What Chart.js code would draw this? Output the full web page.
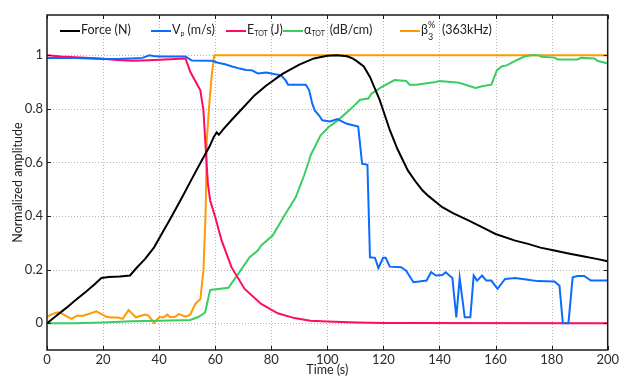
<!DOCTYPE html>
<html>
<head>
<meta charset="utf-8">
<script src="https://cdn.jsdelivr.net/npm/chart.js@4/dist/chart.umd.min.js"></script>
<style>
    html, body { margin: 0; padding: 0; background: #fff; }
    #wrap { position: relative; width: 621px; height: 376px; }
    #legend { position: absolute; left: 0; top: 0; width: 621px; height: 40px; font: 12.5px Lato, sans-serif; color: #222; pointer-events: none; }
    .leg { position: absolute; top: 23px; line-height: 14px; white-space: nowrap; }
    .leg i { display: inline-block; width: 20px; height: 2px; vertical-align: middle; margin-right: 1px; }
    .leg sub { font-size: 7px; vertical-align: -2px; }
    .leg .ss { display: inline-block; position: relative; width: 9px; height: 14px; vertical-align: middle; font-size: 9px; }
    .leg .ss span { position: absolute; left: 0; }
</style>
</head>
<body>
<div id="wrap">
    <canvas id="chart" width="621" height="376"></canvas>
    <div id="legend"></div>
</div>
<script>
const xTicks = [0, 20, 40, 60, 80, 100, 120, 140, 160, 180, 200];
const yTicks = [0, 0.2, 0.4, 0.6, 0.8, 1];

const forceT = [0, 3, 7, 10, 14, 17, 19.4, 22, 26, 29.6, 32, 35, 38.2, 41, 44, 48.2, 52, 55.2, 58, 59.5, 60.5, 61.3, 63, 66, 70, 74, 78, 84, 90, 95.2, 100, 103.5, 107, 109, 110.5, 113, 115.2, 118.7, 122.3, 125, 128.7, 131.7, 134, 136, 141, 145, 150.5, 156.4, 160, 167, 171.6, 176, 181, 186, 191.6, 196, 200];
const forceV = [0, 0.025, 0.058, 0.085, 0.118, 0.145, 0.169, 0.172, 0.174, 0.178, 0.207, 0.24, 0.283, 0.335, 0.39, 0.47, 0.545, 0.607, 0.66, 0.695, 0.712, 0.703, 0.725, 0.76, 0.805, 0.85, 0.885, 0.93, 0.965, 0.988, 0.998, 1.0, 0.996, 0.988, 0.978, 0.958, 0.919, 0.832, 0.72, 0.65, 0.57, 0.525, 0.495, 0.475, 0.433, 0.41, 0.383, 0.352, 0.333, 0.308, 0.296, 0.282, 0.271, 0.26, 0.249, 0.24, 0.231];

const vpT = [0, 10, 20, 25, 30, 34, 36.5, 38, 40, 49.4, 51.7, 58.8, 61, 63.5, 66, 68.8, 71, 73, 75.2, 78.2, 80, 83.5, 85.2, 86, 92.3, 93.5, 94.6, 95.5, 97, 98.2, 101, 103.5, 107, 111, 112.4, 114.3, 115.2, 117, 118.2, 119.9, 120.8, 122.3, 126.3, 128.1, 130.7, 135.4, 137, 138.7, 141, 142.2, 144.6, 146, 147.2, 149, 151, 152.2, 153.4, 155.2, 156.7, 158.5, 160.7, 163.4, 167, 171.6, 175, 181, 182.8, 184, 186, 187.5, 189.3, 191.6, 194, 200];
const vpV = [0.99, 0.99, 0.986, 0.986, 0.988, 0.99, 1.0, 0.997, 0.995, 0.995, 0.98, 0.979, 0.972, 0.966, 0.958, 0.95, 0.945, 0.944, 0.932, 0.935, 0.932, 0.925, 0.905, 0.89, 0.89, 0.87, 0.82, 0.794, 0.776, 0.757, 0.753, 0.762, 0.744, 0.734, 0.595, 0.591, 0.246, 0.244, 0.206, 0.244, 0.244, 0.211, 0.209, 0.196, 0.153, 0.159, 0.19, 0.178, 0.18, 0.19, 0.169, 0.022, 0.169, 0.022, 0.022, 0.178, 0.159, 0.178, 0.159, 0.159, 0.128, 0.165, 0.169, 0.162, 0.157, 0.156, 0.14, 0, 0, 0.171, 0.176, 0.176, 0.159, 0.159];

const eT = [0, 5, 10, 18.8, 25, 30.5, 36.5, 44, 49.4, 51.1, 54.7, 55.8, 56.9, 57.4, 58.2, 60, 62.3, 65.8, 70.5, 76.4, 82.3, 88.2, 94, 100, 110.5, 120, 200];
const eV = [1.0, 0.995, 0.992, 0.988, 0.982, 0.979, 0.981, 0.985, 0.988, 0.938, 0.869, 0.794, 0.6, 0.52, 0.458, 0.396, 0.308, 0.209, 0.128, 0.072, 0.037, 0.019, 0.009, 0.006, 0.003, 0.001, 0];

const alphaT = [0, 10, 20, 30, 40, 51.1, 54.1, 56.4, 58.2, 61.1, 64.7, 68.2, 72.3, 75.2, 76.4, 80.5, 84.7, 88.7, 91.7, 93.5, 94, 97.6, 100.5, 103.5, 108.1, 111.7, 114.6, 115.8, 119.3, 124, 128.1, 129.3, 131.7, 138.7, 140, 147, 152.8, 155.2, 158.5, 160.5, 162.3, 164, 167, 170.5, 172.8, 175.2, 176.4, 181, 182.3, 189.3, 190.5, 195.3, 196.3, 200];
const alphaV = [0, 0, 0.003, 0.007, 0.009, 0.012, 0.024, 0.04, 0.124, 0.128, 0.132, 0.184, 0.246, 0.271, 0.29, 0.327, 0.402, 0.47, 0.551, 0.607, 0.626, 0.701, 0.732, 0.755, 0.797, 0.834, 0.838, 0.857, 0.881, 0.907, 0.904, 0.89, 0.89, 0.9, 0.904, 0.897, 0.878, 0.884, 0.89, 0.944, 0.959, 0.962, 0.979, 0.996, 1.0, 1.0, 0.994, 0.991, 0.984, 0.984, 0.99, 0.988, 0.979, 0.969];

const betaT = [0, 1.5, 3.5, 4.7, 6.5, 8.8, 10.6, 13, 17.6, 21.2, 22.9, 25.3, 27, 29.1, 31.7, 35, 36.2, 38.2, 40, 41.7, 42.9, 44, 45.7, 47, 49.4, 51.1, 52.9, 54.7, 55.8, 56.6, 57, 57.8, 58.8, 59.7, 200];
const betaV = [0.024, 0.032, 0.04, 0.04, 0.028, 0.016, 0.028, 0.028, 0.044, 0.024, 0.021, 0.021, 0.016, 0.049, 0.022, 0.032, 0.028, 0.001, 0.022, 0.022, 0.032, 0.022, 0.024, 0.034, 0.024, 0.032, 0.072, 0.09, 0.196, 0.42, 0.682, 0.807, 0.93, 1.0, 1.0];

const seriesNames = ["Force (N)", "Vp (m/s)", "ETOT (J)", "αTOT (dB/cm)", "β3% (363kHz)"];
const seriesColors = ["#000000", "#0a6cff", "#ff0a64", "#3ccc64", "#ff9a00"];

function points(ts, vs) {
    return ts.map((t, i) => ({ x: t, y: vs[i] }));
}

// legend is real HTML so the sub/superscripts can be kept
const legendItems = [
    { left: 60, html: "Force (N)" },
    { left: 151, html: "V<sub>p</sub> (m/s)" },
    { left: 226, html: "E<sub>TOT</sub> (J)" },
    { left: 283, html: "α<sub>TOT</sub><span style=\"margin-left:5px\">(dB/cm)</span>" },
    { left: 400, html: "β<span class=\"ss\"><span style=\"top:-6px\">%</span><span style=\"top:6px\">3</span></span><span style=\"margin-left:5px\">(363kHz)</span>" },
];

function buildLegend() {
    const el = document.getElementById("legend");
    el.innerHTML = legendItems.map((item, i) =>
        `<div class="leg" style="left:${item.left}px"><i style="background:${seriesColors[i]}"></i>${item.html}</div>`
    ).join("");
}

// dotted grid under the data, solid frame with inward ticks over it
const framePlugin = {
    id: "frame",
    beforeDatasetsDraw(chart) {
        const { ctx, chartArea: a, scales: { x, y } } = chart;
        ctx.save();
        ctx.strokeStyle = "#b4b4b4";
        ctx.lineWidth = 1;
        ctx.setLineDash([1, 2]);
        for (const t of xTicks) {
            const px = Math.round(x.getPixelForValue(t)) + 0.5;
            if (px <= a.left + 1 || px >= a.right - 1) continue;
            ctx.beginPath(); ctx.moveTo(px, a.top); ctx.lineTo(px, a.bottom); ctx.stroke();
        }
        for (const v of yTicks) {
            const py = Math.round(y.getPixelForValue(v)) + 0.5;
            ctx.beginPath(); ctx.moveTo(a.left, py); ctx.lineTo(a.right, py); ctx.stroke();
        }
        ctx.restore();
    },
    afterDatasetsDraw(chart) {
        const { ctx, chartArea: a, scales: { x, y } } = chart;
        ctx.save();
        ctx.strokeStyle = "#1a1a1a";
        ctx.lineWidth = 1.5;
        ctx.strokeRect(a.left, a.top, a.right - a.left, a.bottom - a.top);
        ctx.lineWidth = 1;
        for (const t of xTicks) {
            const px = Math.round(x.getPixelForValue(t)) + 0.5;
            ctx.beginPath();
            ctx.moveTo(px, a.bottom); ctx.lineTo(px, a.bottom - 4);
            ctx.moveTo(px, a.top); ctx.lineTo(px, a.top + 4);
            ctx.stroke();
        }
        for (const v of yTicks) {
            const py = Math.round(y.getPixelForValue(v)) + 0.5;
            ctx.beginPath();
            ctx.moveTo(a.left, py); ctx.lineTo(a.left + 4, py);
            ctx.moveTo(a.right, py); ctx.lineTo(a.right - 4, py);
            ctx.stroke();
        }
        ctx.restore();
    },
};

function renderChart() {
    const series = [
        points(forceT, forceV),
        points(vpT, vpV),
        points(eT, eV),
        points(alphaT, alphaV),
        points(betaT, betaV),
    ];
    const datasets = series.map((data, i) => ({
        label: seriesNames[i],
        data,
        borderColor: seriesColors[i],
        backgroundColor: seriesColors[i],
        borderWidth: 2,
        pointRadius: 0,
        tension: 0,
        fill: false,
    }));

    new Chart(document.getElementById("chart"), {
        type: "line",
        data: { datasets },
        options: {
            responsive: false,
            animation: false,
            devicePixelRatio: 1,
            layout: { padding: { top: 15, right: 6, left: 0, bottom: 0 } },
            plugins: { legend: { display: false }, tooltip: { enabled: false } },
            scales: {
                x: {
                    type: "linear",
                    min: 0,
                    max: 200,
                    afterBuildTicks: (scale) => { scale.ticks = xTicks.map((v) => ({ value: v })); },
                    afterFit: (scale) => { scale.height = 26; },
                    grid: { display: false, drawTicks: false },
                    border: { display: false },
                    ticks: { padding: 2, color: "#2a2a2a", font: { family: "Lato", size: 13 }, maxRotation: 0, autoSkip: false },
                    title: { display: true, text: "Time (s)", color: "#222", font: { family: "Lato", size: 12.5, lineHeight: 1 }, padding: { top: 0, bottom: 0 } },
                },
                y: {
                    type: "linear",
                    min: -0.1,
                    max: 1.15,
                    afterBuildTicks: (scale) => { scale.ticks = yTicks.map((v) => ({ value: v })); },
                    afterFit: (scale) => { scale.width = 47; },
                    grid: { display: false, drawTicks: false },
                    border: { display: false },
                    ticks: { padding: 4, color: "#2a2a2a", font: { family: "Lato", size: 13 }, callback: (v) => String(v) },
                    title: { display: true, text: "Normalized amplitude", color: "#222", font: { family: "Lato", size: 12.5, lineHeight: 1.2 }, padding: { top: 10, bottom: 0 } },
                },
            },
        },
        plugins: [framePlugin],
    });
}

buildLegend();
renderChart();
</script>
</body>
</html>
